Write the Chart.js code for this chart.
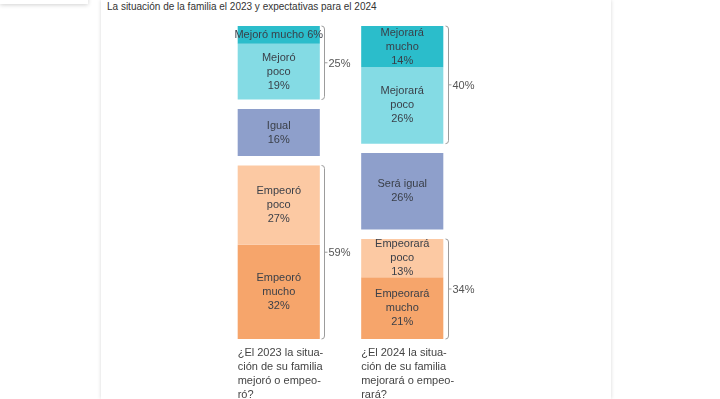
<!DOCTYPE html>
<html>
<head>
<meta charset="utf-8">
<script src="https://cdn.jsdelivr.net/npm/chart.js@4.4.1/dist/chart.umd.min.js"></script>
<style>
  html, body { margin: 0; padding: 0; background: #fff; overflow: hidden; }
  #page { position: relative; width: 720px; height: 399px; }
  .card { position: absolute; left: 0; top: -10px; width: 88px; height: 14px; background: #fff; box-shadow: 0 1px 4px rgba(0,0,0,0.18); }
  .panel { position: absolute; left: 101px; top: 0; width: 510px; height: 399px; background: #fff; box-shadow: 0 0 4px rgba(0,0,0,0.16); }
  .title { position: absolute; left: 107px; top: 1px; font: 10px "Liberation Sans", Arial, sans-serif; color: #333; white-space: nowrap; }
  #wrap { position: absolute; left: 0; top: 0; width: 720px; height: 399px; }
</style>
</head>
<body>
<div id="page">
  <div class="card"></div>
  <div class="panel"></div>
  <div class="title">La situación de la familia el 2023 y expectativas para el 2024</div>
  <div id="wrap"><canvas id="situacionChart"></canvas></div>
</div>
<script>
// datos (porcentajes)
var years = ['2023', '2024'];
var mejoroMucho = [6, 14];
var mejoroPoco = [19, 26];
var igual = [16, 26];
var empeoroPoco = [27, 13];
var empeoroMucho = [32, 21];

var nombres2023 = ['Mejoró mucho', 'Mejoró\npoco', 'Igual', 'Empeoró\npoco', 'Empeoró\nmucho'];
var nombres2024 = ['Mejorará\nmucho', 'Mejorará\npoco', 'Será igual', 'Empeorará\npoco', 'Empeorará\nmucho'];

var preguntas = [
  ['¿El 2023 la situa-', 'ción de su familia', 'mejoró o empeo-', 'ró?'],
  ['¿El 2024 la situa-', 'ción de su familia', 'mejorará o empeo-', 'rará?']
];

var colores = ['#2bbdcb', '#84dbe4', '#8e9fcb', '#fcc9a3', '#f6a56b'];
var GAP = 3.2; // espacio entre grupos, en unidades del eje
var FONT = '"Liberation Sans", Arial, sans-serif';

var series = [mejoroMucho, mejoroPoco, igual, empeoroPoco, empeoroMucho];
var nombres = [nombres2023, nombres2024];

// floating bars: [inicio, fin] por columna, con espacio entre mejoró / igual / empeoró
function buildRanges() {
  var ranges = series.map(function() { return []; });
  for (var c = 0; c < years.length; c++) {
    var pos = 0;
    for (var s = 0; s < series.length; s++) {
      if (s === 2 || s === 3) pos += GAP;
      ranges[s][c] = [pos, pos + series[s][c]];
      pos += series[s][c];
    }
  }
  return ranges;
}
var ranges = buildRanges();
var yMax = 100 + 2 * GAP;

var labelsPlugin = {
  id: 'segmentLabels',
  afterDatasetsDraw: function(chart) {
    var ctx = chart.ctx;
    var y = chart.scales.y;
    ctx.save();
    ctx.font = '11px ' + FONT;
    ctx.textAlign = 'center';
    ctx.textBaseline = 'middle';
    ctx.fillStyle = '#3a3f48';
    chart.data.datasets.forEach(function(ds, di) {
      chart.getDatasetMeta(di).data.forEach(function(el, ci) {
        var top = Math.min(el.y, el.base), bottom = Math.max(el.y, el.base);
        var h = bottom - top;
        var name = nombres[ci][di];
        var val = series[di][ci] + '%';
        var lines = h < 25 ? [name.replace('\n', ' ') + ' ' + val] : name.split('\n').concat([val]);
        var lh = 14;
        var cy = (top + bottom) / 2 - (lines.length - 1) * lh / 2;
        lines.forEach(function(t, i) { ctx.fillText(t, el.x, cy + i * lh); });
      });
    });

    // llaves con totales
    ctx.strokeStyle = '#9c9c9c';
    ctx.lineWidth = 1;
    ctx.fillStyle = '#555';
    ctx.textAlign = 'left';
    var meta = chart.getDatasetMeta(0);
    for (var c = 0; c < years.length; c++) {
      var el = meta.data[c];
      var bx = Math.round(el.x + el.width / 2 + 4.5) + 0.5;
      var groups = [
        [ranges[0][c][0], ranges[1][c][1], mejoroMucho[c] + mejoroPoco[c]],
        [ranges[3][c][0], ranges[4][c][1], empeoroPoco[c] + empeoroMucho[c]]
      ];
      groups.forEach(function(g) {
        var t = y.getPixelForValue(g[0]), b = y.getPixelForValue(g[1]);
        var m = (t + b) / 2;
        ctx.beginPath();
        ctx.moveTo(bx - 3, t);
        ctx.quadraticCurveTo(bx, t, bx, t + 3);
        ctx.lineTo(bx, b - 3);
        ctx.quadraticCurveTo(bx, b, bx - 3, b);
        ctx.moveTo(bx, m);
        ctx.lineTo(bx + 3, m);
        ctx.stroke();
        ctx.fillText(g[2] + '%', bx + 4, m + 1);
      });

      // pregunta bajo cada columna
      ctx.fillStyle = '#444';
      var lx = el.x - el.width / 2;
      preguntas[c].forEach(function(t, i) {
        ctx.fillText(t, lx, chart.chartArea.bottom + 14 + i * 14);
      });
      ctx.fillStyle = '#555';
    }
    ctx.restore();
  }
};

var ctx = document.getElementById('situacionChart');
new Chart(ctx, {
  type: 'bar',
  data: {
    labels: years,
    datasets: series.map(function(s, i) {
      return {
        data: ranges[i],
        backgroundColor: colores[i],
        borderWidth: 0,
        categoryPercentage: 1,
        barPercentage: 0.665
      };
    })
  },
  options: {
    responsive: true,
    maintainAspectRatio: false,
    animation: false,
    layout: { padding: { left: 217, right: 256, top: 26, bottom: 60 } },
    scales: {
      x: { stacked: true, display: false },
      y: { display: false, reverse: true, min: 0, max: yMax }
    },
    plugins: {
      legend: { display: false },
      tooltip: { enabled: false }
    }
  },
  plugins: [labelsPlugin]
});
</script>
</body>
</html>
